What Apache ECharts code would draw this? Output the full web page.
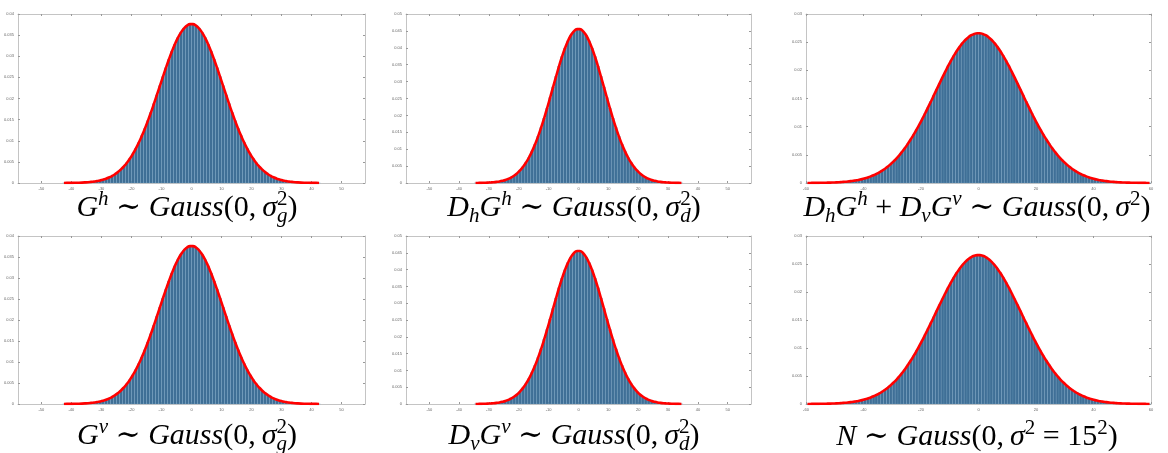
<!DOCTYPE html>
<html>
<head>
<meta charset="utf-8">
<script src="https://cdn.jsdelivr.net/npm/echarts@6/dist/echarts.min.js"></script>
<style>
  html, body { margin: 0; padding: 0; background: #fff; }
  #main { width: 1168px; height: 453px; }
</style>
</head>
<body>
<div id="main"></div>
<script>
// histogram densities, one value per bin (bin width 1)
var histG = [
  0.00001,0.00002,0.00003,0.00004,0.00005,0.00007,0.00010,0.00014,0.00019,0.00026,0.00034,0.00046,0.00060,0.00078,0.00101,
  0.00130,0.00165,0.00208,0.00260,0.00322,0.00396,0.00481,0.00580,0.00693,0.00821,0.00963,0.01121,0.01292,0.01477,0.01673,
  0.01878,0.02090,0.02305,0.02519,0.02729,0.02930,0.03119,0.03290,0.03440,0.03564,0.03661,0.03726,0.03760,
  0.03760,0.03726,0.03661,0.03564,0.03440,0.03290,0.03119,0.02930,0.02729,0.02519,0.02305,0.02090,0.01878,0.01673,0.01477,
  0.01292,0.01121,0.00963,0.00821,0.00693,0.00580,0.00481,0.00396,0.00322,0.00260,0.00208,0.00165,0.00130,0.00101,0.00078,
  0.00060,0.00046,0.00034,0.00026,0.00019,0.00014,0.00010,0.00007,0.00005,0.00004,0.00003,0.00002,0.00001
];
var histD = [
  0.00002,0.00003,0.00005,0.00007,0.00010,0.00016,0.00023,0.00033,0.00046,0.00065,0.00090,0.00124,0.00167,0.00223,0.00293,
  0.00381,0.00488,0.00617,0.00770,0.00950,0.01155,0.01387,0.01643,0.01922,0.02219,0.02529,0.02844,0.03157,0.03460,0.03742,
  0.03994,0.04208,0.04377,0.04493,0.04552,
  0.04552,0.04493,0.04377,0.04208,0.03994,0.03742,0.03460,0.03157,0.02844,0.02529,0.02219,0.01922,0.01643,0.01387,0.01155,
  0.00950,0.00770,0.00617,0.00488,0.00381,0.00293,0.00223,0.00167,0.00124,0.00090,0.00065,0.00046,0.00033,0.00023,0.00016,
  0.00010,0.00007,0.00005,0.00003,0.00002
];
var histWide = [
  0.00001,0.00001,0.00002,0.00002,0.00003,0.00004,0.00005,0.00006,0.00007,0.00009,0.00011,0.00014,0.00018,0.00022,0.00027,
  0.00033,0.00040,0.00048,0.00058,0.00069,0.00083,0.00099,0.00117,0.00138,0.00162,0.00189,0.00220,0.00254,0.00293,0.00337,
  0.00385,0.00437,0.00495,0.00559,0.00627,0.00701,0.00780,0.00863,0.00952,0.01045,0.01142,0.01243,0.01347,0.01452,0.01559,
  0.01667,0.01774,0.01879,0.01982,0.02082,0.02176,0.02265,0.02347,0.02421,0.02487,0.02543,0.02588,0.02623,0.02646,0.02658,
  0.02658,0.02646,0.02623,0.02588,0.02543,0.02487,0.02421,0.02347,0.02265,0.02176,0.02082,0.01982,0.01879,0.01774,0.01667,
  0.01559,0.01452,0.01347,0.01243,0.01142,0.01045,0.00952,0.00863,0.00780,0.00701,0.00627,0.00559,0.00495,0.00437,0.00385,
  0.00337,0.00293,0.00254,0.00220,0.00189,0.00162,0.00138,0.00117,0.00099,0.00083,0.00069,0.00058,0.00048,0.00040,0.00033,
  0.00027,0.00022,0.00018,0.00014,0.00011,0.00009,0.00007,0.00006,0.00005,0.00004,0.00003,0.00002,0.00002,0.00001,0.00001
];

// x ticks
var ticksNarrow = [-50,-40,-30,-20,-10,0,10,20,30,40,50];
var ticksWide = [-60,-40,-20,0,20,40,60];

// captions (LaTeX-like pieces: i = italic, r = roman, sup / sub = scripts)
var capGh = [['G','i'],['h','sup'],[' \u223C ','r'],['Gauss','i'],['(0,\u2009','r'],['\u03C3','i'],['2','sup'],['g','sub'],[')','r']];
var capDh = [['D','i'],['h','sub'],['G','i'],['h','sup'],[' \u223C ','r'],['Gauss','i'],['(0,\u2009','r'],['\u03C3','i'],['2','sup'],['d','sub'],[')','r']];
var capSum = [['D','i'],['h','sub'],['G','i'],['h','sup'],[' + ','r'],['D','i'],['v','sub'],['G','i'],['v','sup'],[' \u223C ','r'],['Gauss','i'],['(0,\u2009','r'],['\u03C3','i'],['2','sup'],[')','r']];
var capGv = [['G','i'],['v','sup'],[' \u223C ','r'],['Gauss','i'],['(0,\u2009','r'],['\u03C3','i'],['2','sup'],['g','sub'],[')','r']];
var capDv = [['D','i'],['v','sub'],['G','i'],['v','sup'],[' \u223C ','r'],['Gauss','i'],['(0,\u2009','r'],['\u03C3','i'],['2','sup'],['d','sub'],[')','r']];
var capN = [['N','i'],[' \u223C ','r'],['Gauss','i'],['(0,\u2009','r'],['\u03C3','i'],['2','sup'],[' = ','r'],['15','r'],['2','sup'],[')','r']];

var panels = [
  {grid:{left:18, top:14, width:347, height:169}, hist:histG, lo:-43, xr:57.8, ticks:ticksNarrow, ymax:0.04, cap:capGh, cx:187, base:217},
  {grid:{left:406, top:14, width:345, height:169}, hist:histD, lo:-35, xr:57.8, ticks:ticksNarrow, ymax:0.05, cap:capDh, cx:574, base:217},
  {grid:{left:806, top:14, width:345, height:169}, hist:histWide, lo:-60, xr:60, ticks:ticksWide, ymax:0.03, cap:capSum, cx:977, base:217},
  {grid:{left:18, top:236, width:347, height:168}, hist:histG, lo:-43, xr:57.8, ticks:ticksNarrow, ymax:0.04, cap:capGv, cx:187, base:445},
  {grid:{left:406, top:236, width:345, height:168}, hist:histD, lo:-35, xr:57.8, ticks:ticksNarrow, ymax:0.05, cap:capDv, cx:574, base:445},
  {grid:{left:806, top:236, width:345, height:168}, hist:histWide, lo:-60, xr:60, ticks:ticksWide, ymax:0.03, cap:capN, cx:977, base:446}
];

var FONT = '"Liberation Serif", "DejaVu Serif", serif';
var SIZE = 30;
var ctx = document.createElement('canvas').getContext('2d');
function measure(t, size, italic) {
  ctx.font = (italic ? 'italic ' : '') + size + 'px ' + FONT;
  return ctx.measureText(t).width;
}

function caption(tokens, cx, base) {
  var x = 0, items = [], lastScript = null, scriptStart = 0, scriptW = 0;
  tokens.forEach(function (tk) {
    var t = tk[0], k = tk[1];
    var isScript = (k === 'sup' || k === 'sub');
    var size = isScript ? Math.round(SIZE * 0.7) : SIZE;
    var italic = (k === 'i') || (isScript && /[a-z\u03C3]/.test(t));
    var w = measure(t, size, italic);
    var px, dy = 0;
    if (isScript) {
      if (lastScript && lastScript !== k) {
        px = scriptStart;
        scriptW = Math.max(scriptW, w);
        x = scriptStart + scriptW;
      } else {
        scriptStart = x; px = x; scriptW = w; x += w;
      }
      dy = k === 'sup' ? -SIZE * 0.36 : SIZE * 0.2;
      lastScript = k;
    } else {
      px = x; x += w; lastScript = null;
    }
    items.push({t:t, px:px, dy:dy, size:size, italic:italic});
  });
  var left = cx - x / 2;
  return items.map(function (it) {
    return {
      type:'text', x:left + it.px, y:base + it.dy - it.size * 0.305,
      style:{text:it.t, fontSize:it.size, fontFamily:FONT, fontStyle:it.italic ? 'italic' : 'normal',
             fill:'#000', align:'left', verticalAlign:'middle'}
    };
  });
}

var myChart = echarts.init(document.getElementById('main'));
var grids = [], xAxes = [], yAxes = [], series = [], graphics = [];
var lineCol = '#c4c4c4';

panels.forEach(function (p, i) {
  grids.push(p.grid);
  var pts = p.hist.map(function (v, k) { return [p.lo + k + 0.5, v]; });
  var xBase = {gridIndex:i, type:'value', min:-p.xr, max:p.xr, splitLine:{show:false},
    axisLine:{show:true, onZero:false, lineStyle:{color:lineCol, width:1}},
    axisTick:{show:true, inside:true, length:2, customValues:p.ticks, lineStyle:{color:'#999'}}};
  xAxes.push(Object.assign({}, xBase, {position:'bottom',
    axisLabel:{show:true, customValues:p.ticks, fontSize:4, color:'#666', margin:4}}));
  xAxes.push(Object.assign({}, xBase, {position:'top', axisLabel:{show:false}}));
  var yBase = {gridIndex:i, type:'value', min:0, max:p.ymax, interval:0.005, splitLine:{show:false},
    axisLine:{show:true, onZero:false, lineStyle:{color:lineCol, width:1}},
    axisTick:{show:true, inside:true, length:2, lineStyle:{color:'#999'}}};
  yAxes.push(Object.assign({}, yBase, {position:'left',
    axisLabel:{show:true, fontSize:4, color:'#666', margin:4,
      formatter:function (v) { return String(+v.toFixed(3)); }}}));
  yAxes.push(Object.assign({}, yBase, {position:'right', axisLabel:{show:false}}));

  series.push({
    type:'custom', xAxisIndex:2 * i, yAxisIndex:2 * i, data:pts, animation:false, silent:true,
    encode:{x:0, y:1},
    renderItem:function (params, api) {
      var c = api.value(0), v = api.value(1);
      var a = api.coord([c - 0.5, v]), b = api.coord([c + 0.5, 0]);
      return {type:'rect', shape:{x:a[0], y:a[1], width:b[0] - a[0], height:b[1] - a[1]},
        style:{fill:'#3f6f96', stroke:'rgba(130,180,220,0.55)', lineWidth:0.35}};
    }
  });
  series.push({
    type:'line', xAxisIndex:2 * i, yAxisIndex:2 * i, data:pts, smooth:true, symbol:'none',
    animation:false, silent:true, z:5,
    lineStyle:{color:'#ff0000', width:2.6}
  });
  graphics = graphics.concat(caption(p.cap, p.cx, p.base));
});

myChart.setOption({
  backgroundColor:'#fff',
  animation:false,
  grid:grids,
  xAxis:xAxes,
  yAxis:yAxes,
  series:series,
  graphic:graphics
});
</script>
</body>
</html>
